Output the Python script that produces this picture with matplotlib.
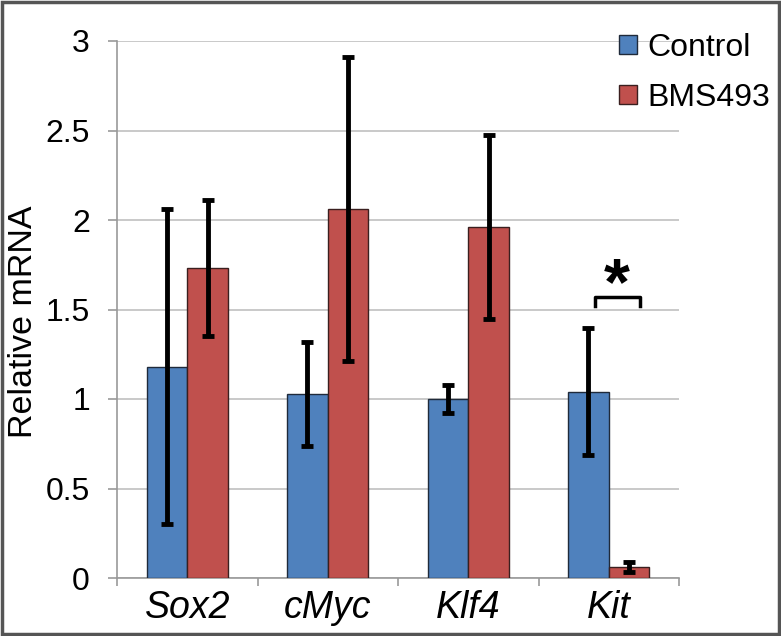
import matplotlib
matplotlib.use("Agg")
import matplotlib.pyplot as plt
from matplotlib.patches import Rectangle
import numpy as np

plt.rcParams['font.family'] = ['Liberation Sans', 'DejaVu Sans']

genes = ["Sox2", "cMyc", "Klf4", "Kit"]
control = [1.18, 1.03, 1.00, 1.04]
control_err = [0.88, 0.29, 0.08, 0.355]
bms = [1.73, 2.06, 1.96, 0.062]
bms_err = [0.38, 0.85, 0.515, 0.028]
series_names = ["Control", "BMS493"]
yticks = [0, 0.5, 1, 1.5, 2, 2.5, 3]
ytick_labels = ["0", "0.5", "1", "1.5", "2", "2.5", "3"]

c_blue = "#4F81BD"
c_red = "#C0504D"

fig = plt.figure(figsize=(7.81, 6.36), dpi=100)
ax = fig.add_axes([117/781, 58/636, 562/781, 537/636])

x = np.arange(len(genes))
w = 0.29
b1 = ax.bar(x - w/2, control, w, color=c_blue, edgecolor="#1f2a3a", linewidth=1.0, zorder=3, label=series_names[0])
b2 = ax.bar(x + w/2, bms, w, color=c_red, edgecolor="#3a1f1f", linewidth=1.0, zorder=3, label=series_names[1])
ax.errorbar(x - w/2, control, yerr=control_err, fmt='none', ecolor='black', elinewidth=3.5, capsize=4, capthick=3.5, zorder=4)
ax.errorbar(x + w/2, bms, yerr=bms_err, fmt='none', ecolor='black', elinewidth=3.5, capsize=4, capthick=3.5, zorder=4)

ax.set_xlim(-0.5, len(genes) - 0.5)
ax.set_ylim(0, 3)
ax.set_yticks(yticks)
ax.set_yticklabels(ytick_labels, fontsize=23)
ax.yaxis.grid(True, color="#c0c0c0", linewidth=1.2, zorder=0)
ax.set_axisbelow(True)

ax.set_xticks(np.arange(-0.5, len(genes), 1.0))
ax.set_xticklabels([])
ax.set_xticks(x, minor=True)
ax.set_xticklabels(genes, minor=True, fontsize=27, style='italic')
ax.tick_params(axis='x', which='minor', length=0, pad=9)
ax.tick_params(axis='x', which='major', length=6, color="#999999", width=1.2, direction='out')
ax.tick_params(axis='y', length=6.5, color="#999999", width=1.2, pad=13)

for s in ['top', 'right']:
    ax.spines[s].set_visible(False)
for s in ['left', 'bottom']:
    ax.spines[s].set_color("#999999")
    ax.spines[s].set_linewidth(1.2)

# significance bracket
kx = x[3]
bx0, bx1 = kx - 0.10, kx + 0.22
by, bt = 1.57, 1.52
ax.plot([bx0, bx0, bx1, bx1], [bt, by, by, bt], color='black', lw=2.5, zorder=5, clip_on=False)
ax.text(kx + 0.055, 1.53, "*", fontsize=48, fontweight='bold', ha='center', va='baseline', zorder=5)

fig.text(24/781, 1 - 322/636, "Relative mRNA", rotation=90, fontsize=24.5, ha='center', va='center')

leg = fig.legend(handles=[b1, b2], labels=series_names, loc='upper left',
                 bbox_to_anchor=(619/781, 1 - 33/636), frameon=False, fontsize=23,
                 handlelength=0.55, handleheight=0.55, handletextpad=0.35,
                 labelspacing=0.62, borderpad=0, borderaxespad=0)

fig.patches.append(Rectangle((0.002, 0.003), 0.996, 0.994, transform=fig.transFigure,
                             fill=False, edgecolor="#555555", linewidth=2.5))

fig.savefig("out.png", dpi=100)
